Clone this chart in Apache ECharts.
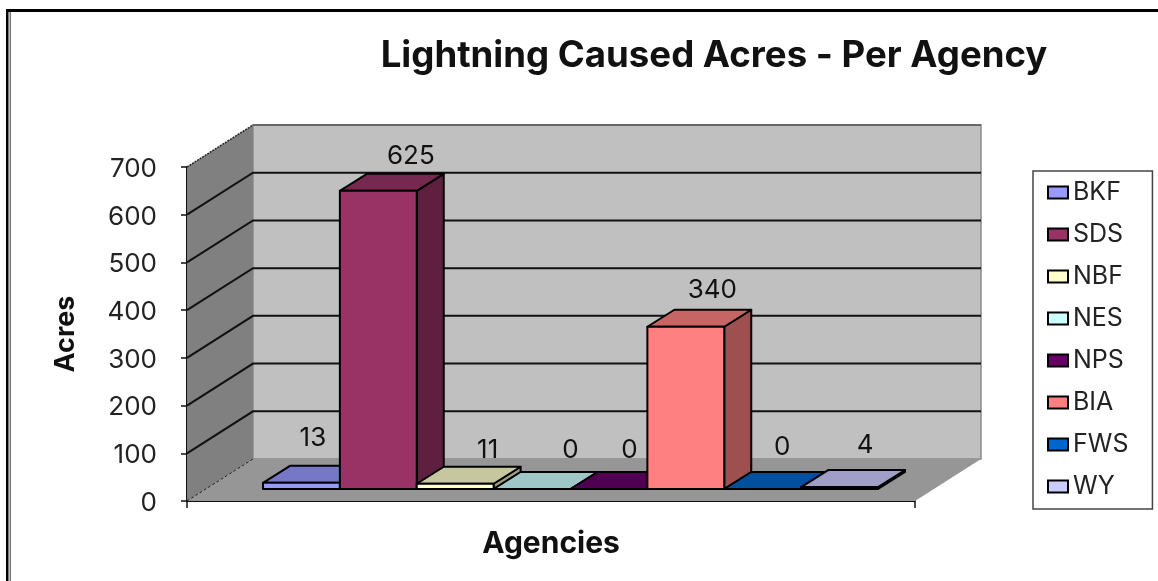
<!DOCTYPE html>
<html>
<head>
<meta charset="utf-8">
<style>html,body{margin:0;padding:0;background:#fff}#c{width:1158px;height:581px}</style>
<script src="https://cdn.jsdelivr.net/npm/echarts@6/dist/echarts.min.js"></script>
</head>
<body>
<div id="c"></div>
<script>
const agencies = ['BKF','SDS','NBF','NES','NPS','BIA','FWS','WY'];
const acres = [13,625,11,0,0,340,0,4];
const barColors = ['#9999FF','#993366','#FFFFCC','#CCFFFF','#660066','#FF8080','#0066CC','#CCCCFF'];
const yTicks = [0,100,200,300,400,500,600,700];
const labelNudge = [[-2,-36],[19,-26],[19,-25],[25,-30],[7,-30],[13,-28],[6,-33],[12,-33]];

const FONT = 'Inter, "Liberation Sans", sans-serif';
const WALL = [66,-42];
const BAR_SHIFT = [19.5,-12];
const BAR_DEPTH = [27,-17];
const BAR_W = 0.1056;

function shade(hex,f){
  const n=parseInt(hex.slice(1),16);
  const c=[n>>16,(n>>8)&255,n&255].map(v=>Math.round(v*f));
  return 'rgb('+c.join(',')+')';
}
function wallItem(params,api){
  const tick=api.value(0), y=api.coord([0,tick])[1];
  const cs=params.coordSys, L=cs.x, R=cs.x+cs.width, T=cs.y, B=cs.y+cs.height;
  const dx=WALL[0], dy=WALL[1], kids=[];
  const line={stroke:'#111',lineWidth:2};
  if(tick===0){
    kids.push({type:'rect',shape:{x:L+dx,y:T+dy,width:cs.width,height:cs.height},
      style:{fill:'#C0C0C0',stroke:'#8a8a8a',lineWidth:1.5}});
    kids.push({type:'polygon',shape:{points:[[L,T],[L+dx,T+dy],[L+dx,B+dy],[L,B]]},style:{fill:'#808080'}});
    kids.push({type:'polygon',shape:{points:[[L,B],[R,B],[R+dx,B+dy],[L+dx,B+dy]]},style:{fill:'#969696'}});
    kids.push({type:'line',shape:{x1:L,y1:B,x2:L+dx,y2:B+dy},style:{stroke:'#222',lineWidth:1,lineDash:[3,2]}});
  } else if(tick===700){
    kids.push({type:'line',shape:{x1:L,y1:y,x2:L+dx,y2:y+dy},style:{stroke:'#222',lineWidth:1.5,lineDash:[2,1]}});
    kids.push({type:'line',shape:{x1:L+dx,y1:y+dy,x2:R+dx,y2:y+dy},style:{stroke:'#555',lineWidth:1.5}});
  } else {
    kids.push({type:'polyline',shape:{points:[[L,y],[L+dx,y+dy],[R+dx,y+dy]]},style:Object.assign({fill:null},line)});
  }
  return {type:'group',children:kids};
}
function barItem(i){
  return function(params,api){
    const top=api.coord([0,api.value(1)]), base=api.coord([0,0]);
    const band=api.size([1,0])[0], w=band*BAR_W;
    const x0=top[0]+(i-4)*w+BAR_SHIFT[0], x1=x0+w;
    const yT=top[1]+BAR_SHIFT[1], yB=base[1]+BAR_SHIFT[1];
    const dx=BAR_DEPTH[0], dy=BAR_DEPTH[1], c=barColors[i];
    const edge={stroke:'#000',lineWidth:2,lineJoin:'round'};
    return {type:'group',children:[
      {type:'polygon',shape:{points:[[x1,yB],[x1+dx,yB+dy],[x1+dx,yT+dy],[x1,yT]]},style:Object.assign({fill:shade(c,0.62)},edge)},
      {type:'polygon',shape:{points:[[x0,yT],[x1,yT],[x1+dx,yT+dy],[x0+dx,yT+dy]]},style:Object.assign({fill:shade(c,0.78)},edge)},
      {type:'rect',shape:{x:x0,y:yT,width:w,height:yB-yT},style:Object.assign({fill:c},edge)},
      {type:'text',x:x0+w/2+dx/2+labelNudge[i][0],y:yT+dy/2+labelNudge[i][1],
        style:{text:String(api.value(1)),fill:'#111',font:'26px '+FONT,align:'center',verticalAlign:'middle'}}
    ]};
  };
}
const series=[{type:'custom',name:'walls',silent:true,z:1,renderItem:wallItem,clip:false,
  encode:{y:1},data:yTicks.map(t=>[t,t])}];
agencies.forEach((name,i)=>{
  series.push({type:'custom',name:name,z:2+i,clip:false,renderItem:barItem(i),
    itemStyle:{color:barColors[i]},encode:{x:0,y:1},data:[[0,acres[i]]]});
});
const chart=echarts.init(document.getElementById('c'),null,{renderer:'canvas'});
chart.setOption({
  animation:false,
  backgroundColor:'#fff',
  title:{text:'Lightning Caused Acres - Per Agency',left:709,top:32,textAlign:'center',
    textStyle:{fontFamily:FONT,fontWeight:'bold',fontSize:36.6,color:'#111'}},
  grid:{left:187,right:243,top:167,bottom:80},
  legend:{show:true,orient:'vertical',left:1033,top:171,data:agencies,icon:'rect',
    itemWidth:20,itemHeight:12,itemGap:17,padding:[9,24,10,14],
    backgroundColor:'#fff',borderColor:'#444',borderWidth:1.5,
    itemStyle:{borderColor:'#000',borderWidth:2},
    textStyle:{fontFamily:FONT,fontSize:25,color:'#222'}},
  xAxis:{type:'category',data:[''],name:'Agencies',nameLocation:'middle',nameGap:28,
    nameTextStyle:{fontFamily:FONT,fontWeight:'bold',fontSize:30,color:'#111'},
    axisLine:{lineStyle:{color:'#111',width:2}},
    axisTick:{show:true,length:7,alignWithLabel:false,lineStyle:{color:'#111',width:1.5}},
    axisLabel:{show:false},splitLine:{show:false}},
  yAxis:{type:'value',min:0,max:700,interval:100,name:'Acres',nameLocation:'middle',nameGap:108,
    nameTextStyle:{fontFamily:FONT,fontWeight:'bold',fontSize:27,color:'#111'},
    axisLine:{show:true,lineStyle:{color:'#111',width:2}},
    axisTick:{show:true,length:6,lineStyle:{color:'#111',width:1.5}},
    axisLabel:{fontFamily:FONT,fontSize:26,color:'#222',margin:30,lineHeight:32,verticalAlign:'top',padding:[-14,0,0,0]},splitLine:{show:false}},
  graphic:[
    {type:'rect',silent:true,shape:{x:6,y:9,width:1152,height:3},style:{fill:'#000'}},
    {type:'rect',silent:true,shape:{x:6,y:9,width:2.5,height:572},style:{fill:'#000'}},
    {type:'rect',silent:true,shape:{x:9.5,y:12,width:1.5,height:569},style:{fill:'#777'}}
  ],
  series:series
});
</script>
</body>
</html>
